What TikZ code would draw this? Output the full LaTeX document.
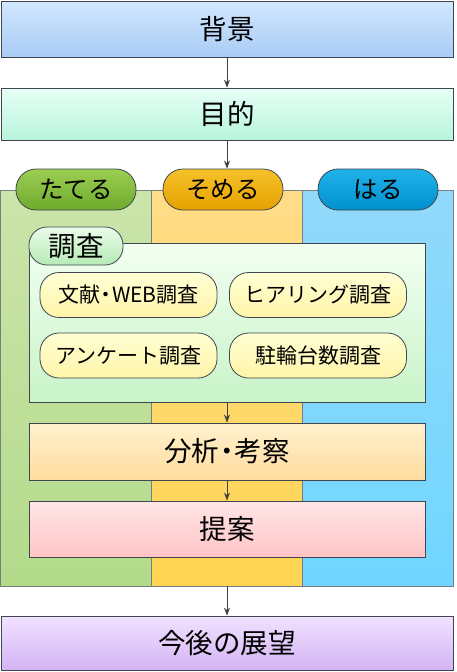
\documentclass[tikz,border=0pt]{standalone}
\usepackage{fontspec}
\usepackage{xcolor}
\usetikzlibrary{arrows.meta}
\newfontfamily\jpfont{Noto Sans CJK JP}

\definecolor{edgegray}{HTML}{3F4650}
\definecolor{arrgray}{HTML}{404040}
\newcommand{\nakaguro}{\kern-0.22em・\kern-0.22em}

\definecolor{tateA}{HTML}{CBE4AB}\definecolor{tateB}{HTML}{B3DB8A}
\definecolor{someA}{HTML}{FFDC88}\definecolor{someB}{HTML}{FFD552}
\definecolor{haruA}{HTML}{92D9FA}\definecolor{haruB}{HTML}{70D6FF}
\definecolor{ptateA}{HTML}{9CCE52}\definecolor{ptateB}{HTML}{6EAA2C}
\definecolor{psomeA}{HTML}{F6C12A}\definecolor{psomeB}{HTML}{E6A200}
\definecolor{pharuA}{HTML}{22B2EA}\definecolor{pharuB}{HTML}{0090CE}
\definecolor{haikeiA}{HTML}{D2E7FF}\definecolor{haikeiB}{HTML}{A8CCF4}
\definecolor{mokuA}{HTML}{E6FFF5}\definecolor{mokuB}{HTML}{B8F4DC}
\definecolor{chosaA}{HTML}{F2FFF2}\definecolor{chosaB}{HTML}{C8F4C8}
\definecolor{ctagA}{HTML}{EAFBEA}\definecolor{ctagB}{HTML}{B6EBB6}
\definecolor{itemA}{HTML}{FFFFD4}\definecolor{itemB}{HTML}{FFF4A8}
\definecolor{bunA}{HTML}{FFF1CE}\definecolor{bunB}{HTML}{FFDC9E}
\definecolor{teianA}{HTML}{FFE6E6}\definecolor{teianB}{HTML}{FFC4C6}
\definecolor{kongoA}{HTML}{F1E2FF}\definecolor{kongoB}{HTML}{D3B4F4}

\tikzset{
  flowbox/.style={draw=edgegray, line width=0.8pt, rectangle, inner sep=0pt,
    font=\jpfont\fontsize{27.5}{30}\selectfont, text=black},
  tagpill/.style={draw=edgegray, line width=0.8pt, rounded corners=20pt,
    minimum width=120pt, minimum height=41pt, inner sep=0pt,
    font=\jpfont\fontsize{24.5}{28}\selectfont, text=black},
  itempill/.style={draw=edgegray, line width=0.8pt, rounded corners=19pt,
    top color=itemA, bottom color=itemB,
    minimum width=177pt, minimum height=45pt, inner sep=0pt,
    font=\jpfont\fontsize{21}{24}\selectfont, text=black},
  lane/.style={draw=edgegray!70, line width=0.6pt, rectangle, inner sep=0pt,
    minimum height=396pt, minimum width=151pt},
  flow/.style={-{Stealth[length=8pt,width=6pt]}, draw=arrgray, fill=arrgray, line width=0.8pt}
}

\begin{document}
\begin{tikzpicture}[x=1pt,y=-1pt]
\useasboundingbox (0,0) rectangle (456,672);

% lanes
\node[lane, top color=tateA, bottom color=tateB] (lanetate) at (76,388) {};
\node[lane, top color=someA, bottom color=someB] (lanesome) at (227,388) {};
\node[lane, top color=haruA, bottom color=haruB] (laneharu) at (378,388) {};

% main flow
\node[flowbox, minimum width=452pt, minimum height=56pt,
  top color=haikeiA, bottom color=haikeiB] (haikei) at (227,29) {背景};
\node[flowbox, minimum width=452pt, minimum height=52pt,
  top color=mokuA, bottom color=mokuB] (mokuteki) at (227,114) {目的};

% lane tags
\node[tagpill, top color=ptateA, bottom color=ptateB] (tateru) at (76,189.5) {たてる};
\node[tagpill, top color=psomeA, bottom color=psomeB] (someru) at (223,189.5) {そめる};
\node[tagpill, top color=pharuA, bottom color=pharuB] (haru) at (378,189.5) {はる};

% survey block
\node[flowbox, minimum width=396pt, minimum height=159pt,
  top color=chosaA, bottom color=chosaB] (chosa) at (227,322.5) {};
\node[draw=edgegray, line width=0.8pt, rounded corners=18pt, minimum width=94pt, minimum height=38pt,
  inner sep=0pt, top color=ctagA, bottom color=ctagB,
  font=\jpfont\fontsize{27.5}{30}\selectfont] (chosatag) at (76,246) {調査};
\node[itempill] (bunken) at (128.5,295) {文献\nakaguro WEB調査};
\node[itempill] (hearing) at (318,295) {ヒアリング調査};
\node[itempill] (enquete) at (128.5,355.5) {アンケート調査};
\node[itempill] (churin) at (318,355.5) {駐輪台数調査};

\node[flowbox, minimum width=396pt, minimum height=57pt,
  top color=bunA, bottom color=bunB] (bunseki) at (227,451.5) {分析\nakaguro 考察};
\node[flowbox, minimum width=396pt, minimum height=56pt,
  top color=teianA, bottom color=teianB] (teian) at (227,529) {提案};
\node[flowbox, minimum width=452pt, minimum height=54pt,
  top color=kongoA, bottom color=kongoB] (kongo) at (227,643) {今後の展望};

% arrows
\draw[flow] (haikei) -- (mokuteki);
\draw[flow] (mokuteki.south) -- (mokuteki.south |- someru.north);
\draw[flow] (chosa) -- (bunseki);
\draw[flow] (bunseki) -- (teian);
\draw[flow] (lanesome.south) -- (lanesome.south |- kongo.north);
\end{tikzpicture}
\end{document}
